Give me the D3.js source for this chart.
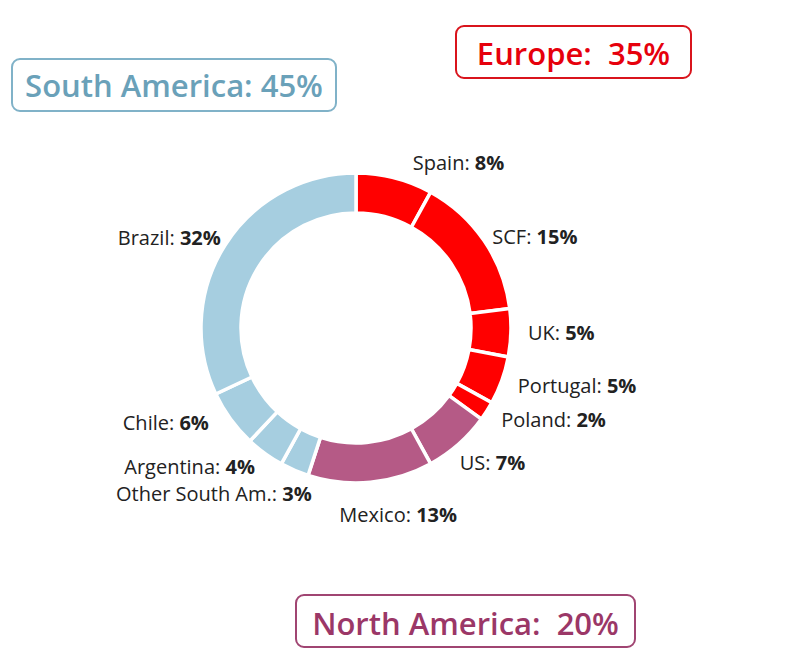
<!DOCTYPE html>
<html>
<head>
<meta charset="utf-8">
<script src="https://cdn.jsdelivr.net/npm/d3@7"></script>
<style>
  body { margin: 0; background: #fff; }
  text { font-family: "Open Sans", "Noto Sans", sans-serif; white-space: pre; }
</style>
</head>
<body>
<svg id="chart"></svg>
<script>
// slices, clockwise from 12 o'clock
const names = ["Spain", "SCF", "UK", "Portugal", "Poland", "US", "Mexico",
  "Other South Am.", "Argentina", "Chile", "Brazil"];
const shares = [8, 15, 5, 5, 2, 7, 13, 3, 4, 6, 32];
const regionOf = ["eu", "eu", "eu", "eu", "eu", "na", "na", "sa", "sa", "sa", "sa"];

const regions = ["sa", "eu", "na"];
const regionTitles = ["South America: 45%", "Europe:  35%", "North America:  20%"];

const ringColor = { eu: "#ff0000", na: "#b55a86", sa: "#a6cee0" };
const titleColor = { eu: "#e6000c", na: "#9b3767", sa: "#6aa1b9" };
const boxColor = { eu: "#d9141c", na: "#a04572", sa: "#80b2c8" };

const width = 812, height = 665;
const cx = 356, cy = 328;
const outerR = 155, innerR = 115, labelR = 172;

const svg = d3.select("#chart").attr("width", width).attr("height", height);

const pie = d3.pie().sort(null).value(d => d.v);
const arc = d3.arc().innerRadius(innerR).outerRadius(outerR);

const slices = pie(names.map((n, i) => ({ name: n, v: shares[i], r: regionOf[i] })));

const g = svg.append("g").attr("transform", `translate(${cx},${cy})`);

g.selectAll("path.slice")
  .data(slices)
  .enter().append("path")
  .attr("class", "slice")
  .attr("d", arc)
  .attr("fill", d => ringColor[d.data.r])
  .attr("stroke", "#fff")
  .attr("stroke-width", 3.5);

// small nudges for the crowded labels
const nudge = { "Spain": [14, 2], "SCF": [-6, 6], "Mexico": [26, 16], "Other South Am.": [24, 8],
  "US": [-10, 6], "Chile": [-8, -6], "Brazil": [10, 2] };

g.selectAll("text.lab")
  .data(slices)
  .enter().append("text")
  .attr("class", "lab")
  .each(function(d) {
    const a = (d.startAngle + d.endAngle) / 2;
    const deg = a * 180 / Math.PI;
    const n = nudge[d.data.name] || [0, 0];
    const x = labelR * Math.sin(a) + n[0];
    const y = -labelR * Math.cos(a) + n[1];
    const anchor = deg < 170 ? "start" : (deg < 185 ? "middle" : "end");
    const t = d3.select(this)
      .attr("x", x).attr("y", y)
      .attr("dy", "0.35em")
      .attr("text-anchor", anchor)
      .attr("font-size", 20)
      .attr("fill", "#222");
    t.append("tspan").text(d.data.name + ": ");
    t.append("tspan").attr("font-weight", 700).text(d.data.v + "%");
  });

// region boxes
const boxes = [
  { x: 12, y: 59, w: 324, h: 52, ty: 97 },
  { x: 456, y: 26, w: 235, h: 52, ty: 65 },
  { x: 296, y: 595, w: 339, h: 52, ty: 635 }
];

regions.forEach((r, i) => {
  const b = boxes[i];
  svg.append("rect")
    .attr("x", b.x).attr("y", b.y)
    .attr("width", b.w).attr("height", b.h)
    .attr("rx", 8)
    .attr("fill", "#fff")
    .attr("stroke", boxColor[r])
    .attr("stroke-width", 2);
  svg.append("text")
    .attr("x", b.x + b.w / 2).attr("y", b.ty)
    .attr("text-anchor", "middle")
    .attr("font-size", 31)
    .attr("font-weight", 600)
    .attr("fill", titleColor[r])
    .text(regionTitles[i]);
});
</script>
</body>
</html>
